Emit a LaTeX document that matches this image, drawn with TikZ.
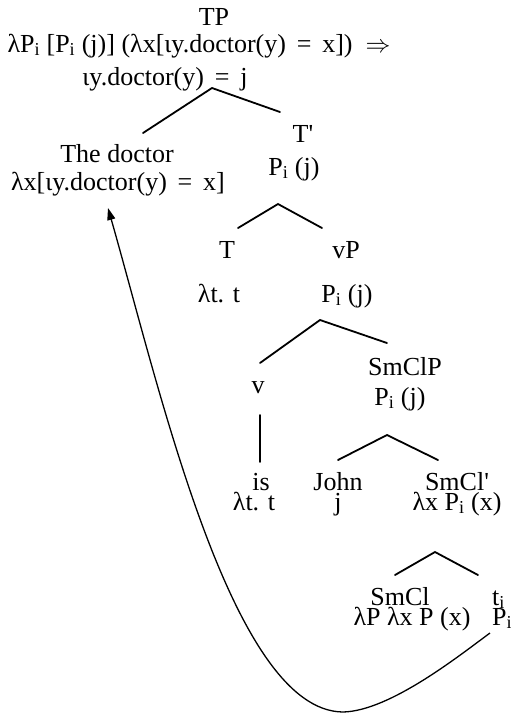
\documentclass[tikz,border=0pt]{standalone}
\usepackage{fontspec}
\setmainfont{Liberation Serif}[Ligatures=TeXOff]
\usetikzlibrary{arrows.meta}
\newcommand{\isub}{\textsubscript{i}}
\begin{document}
\begin{tikzpicture}[x=1pt,y=-1pt,
  lbl/.style={anchor=base,inner sep=0pt,font=\fontsize{26}{26}\selectfont},
  branch/.style={line width=1.8pt,line cap=round},
  movearrow/.style={line width=1.3pt,-{Triangle[length=12pt,width=8pt]}}]
\path[use as bounding box] (0,0) rectangle (511,713);
% text
\node[lbl] (tp) at (214,25) {TP};
\node[lbl] (tpsem) at (199,52) {λP\isub{} [P\isub{} (j)] (λx[ιy.doctor(y) \,=\, x])\ \ $\Rightarrow$};
\node[lbl] (tpres) at (165,85) {ιy.doctor(y) \,=\, j};
\node[lbl] (dp) at (117,162) {The doctor};
\node[lbl] (dpsem) at (118,190) {λx[ιy.doctor(y) \,=\, x]};
\node[lbl] (tbar) at (303,142) {T'};
\node[lbl] (tbarsem) at (294,175) {P\isub{} (j)};
\node[lbl] (t) at (227,258) {T};
\node[lbl] (tsem) at (219,302) {λt. t};
\node[lbl] (vp) at (346,258) {vP};
\node[lbl] (vpsem) at (347,302) {P\isub{} (j)};
\node[lbl] (v) at (258,393) {v};
\node[lbl] (smclp) at (405,375) {SmClP};
\node[lbl] (smclpsem) at (400,405) {P\isub{} (j)};
\node[lbl] (is) at (261,490) {is};
\node[lbl] (issem) at (254,510) {λt. t};
\node[lbl] (john) at (338,490) {John};
\node[lbl] (johnsem) at (338,510) {j};
\node[lbl] (smclbar) at (457,490) {SmCl'};
\node[lbl] (smclbarsem) at (457,510) {λx P\isub{} (x)};
\node[lbl] (smcl) at (400,605) {SmCl};
\node[lbl] (smclsem) at (412,625) {λP λx P (x)};
\node[lbl,anchor=base west] (ti) at (492,605) {t\isub};
\node[lbl,anchor=base west] (tisem) at (492,625) {P\isub};
% branch points
\coordinate (tpA) at (212,88);  \coordinate (tpL) at (143,133); \coordinate (tpR) at (280,112);
\coordinate (tbA) at (278,204); \coordinate (tbL) at (238,228); \coordinate (tbR) at (322,228);
\coordinate (vpA) at (320,320); \coordinate (vpL) at (260,363); \coordinate (vpR) at (387,343);
\coordinate (vT) at (260,415);  \coordinate (vB) at (260,462);
\coordinate (scA) at (387,435); \coordinate (scL) at (338,460); \coordinate (scR) at (438,460);
\coordinate (sbA) at (435,552); \coordinate (sbL) at (395,575); \coordinate (sbR) at (478,575);
\draw[branch] (tpL) -- (tpA) -- (tpR);
\draw[branch] (tbL) -- (tbA) -- (tbR);
\draw[branch] (vpL) -- (vpA) -- (vpR);
\draw[branch] (vT) -- (vB);
\draw[branch] (scL) -- (scA) -- (scR);
\draw[branch] (sbL) -- (sbA) -- (sbR);
% movement arrow
\coordinate (mvS) at (490,633);
\coordinate (mvB) at (343,712);
\coordinate (mvE) at (108,208);
\draw[movearrow] (mvS) .. controls (460,655) and (390,711) .. (mvB)
  .. controls (232,711) and (160,390) .. (mvE);
\end{tikzpicture}
\end{document}
